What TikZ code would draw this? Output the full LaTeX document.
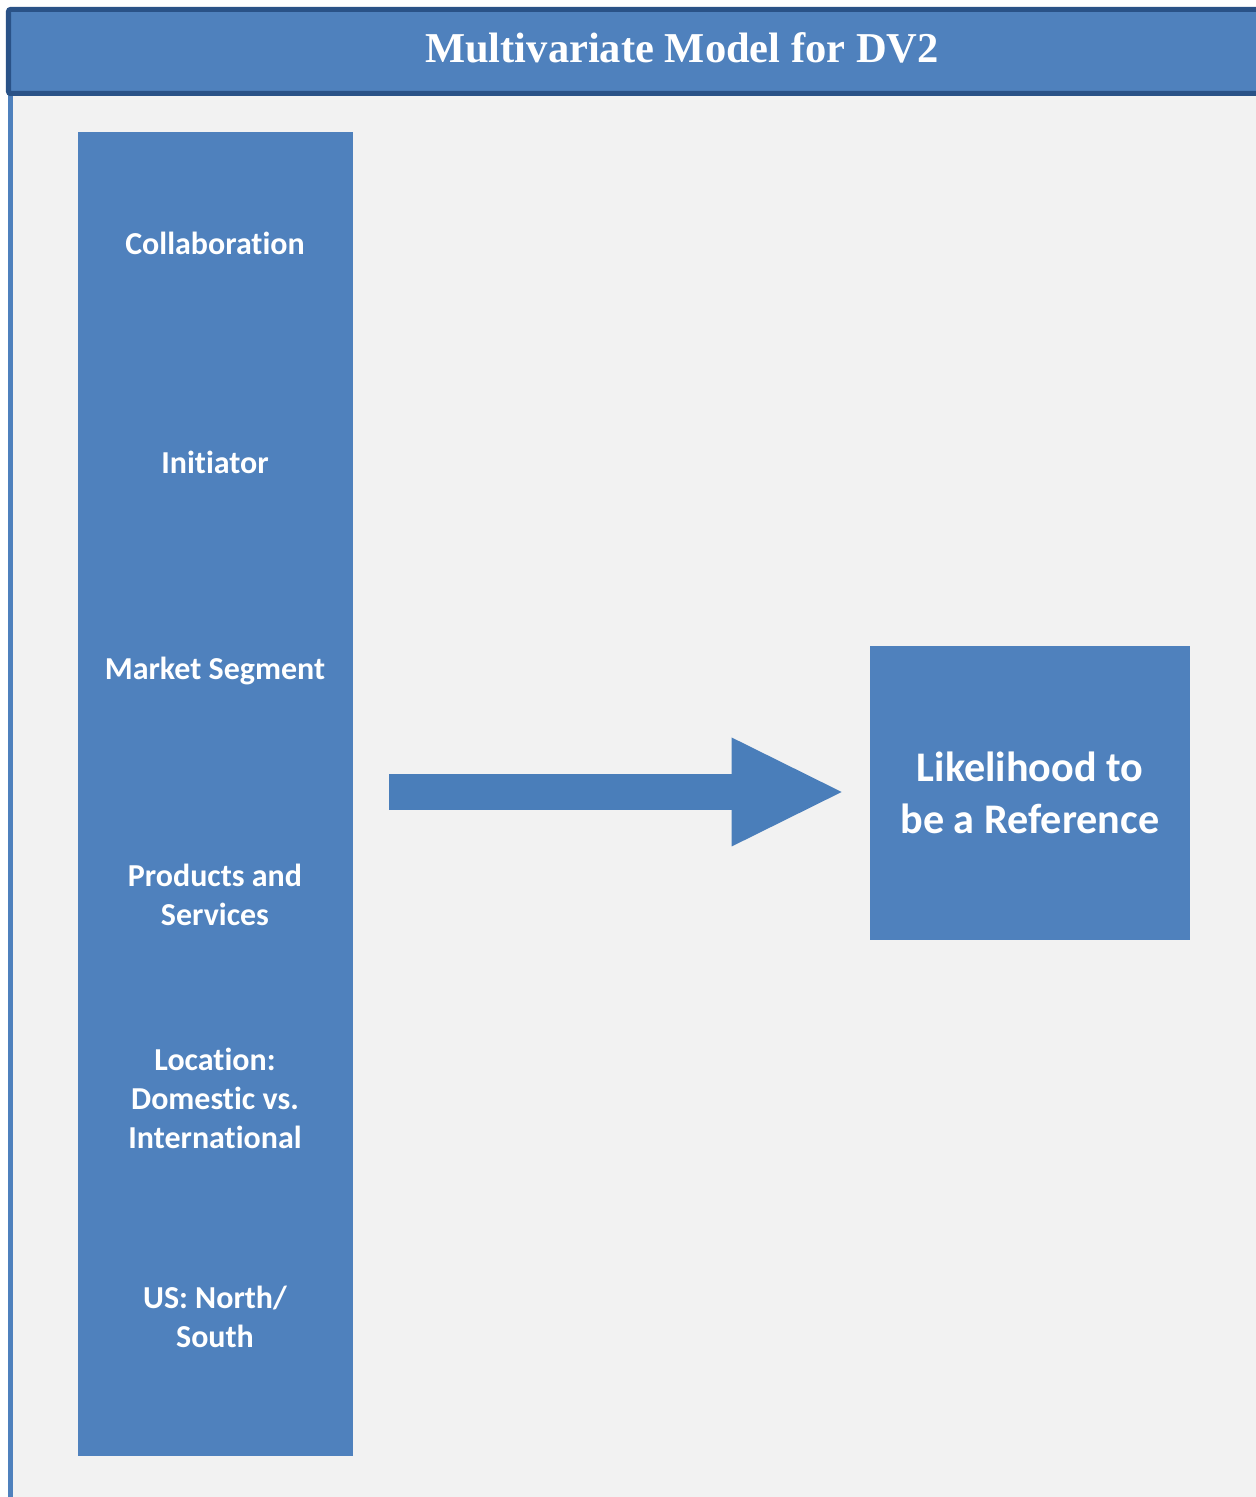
\documentclass[tikz,border=0pt]{standalone}
\usepackage{fontspec}
\setmainfont{Carlito}[Ligatures=NoCommon]
\newfontfamily\titlefont{Liberation Serif}
\usepackage{tikz}
\usetikzlibrary{arrows.meta, calc}

\definecolor{boxblue}{HTML}{4F81BD}
\definecolor{arrowblue}{HTML}{4A7EBA}
\definecolor{edgeblue}{HTML}{2A5287}
\definecolor{panelgray}{HTML}{F2F2F2}

\begin{document}
\begin{tikzpicture}[
    factor/.style={font=\bfseries\fontsize{18.2}{22.2}\selectfont, text=white, align=center},
    bigarrow/.style={draw=arrowblue, line width=0.72cm,
        -{Triangle[length=2.2cm, width=2.18cm, line width=0pt 0]}}
]
\useasboundingbox (0, 0) rectangle (25.12, 29.94);

% Panel and frame
\fill[panelgray] (0.16, 0) rectangle (25.12, 28.05);
\draw[boxblue, line width=0.11cm] (0.21, 0) -- (0.21, 28.05);

% Title bar
\draw[edgeblue, fill=boxblue, line width=0.1cm, rounded corners=0.04cm] (0.17, 28.07) rectangle (25.6, 29.75);
\node[font=\titlefont\bfseries\fontsize{24.2}{29}\selectfont, text=white] (title) at (13.64, 28.98)
    {Multivariate Model for DV2};

% Predictors column
\node[fill=boxblue, minimum width=5.5cm, minimum height=26.48cm, inner sep=0pt] (factors) at (4.31, 14.06) {};
\node[factor] (collab) at (4.30, 25.08) {Collaboration};
\node[factor] (initiator) at (4.30, 20.70) {Initiator};
\node[factor] (segment) at (4.30, 16.52) {Market Segment};
\node[factor] (products) at (4.30, 12.05) {Products and\\Services};
\node[factor] (location) at (4.30, 7.98) {Location:\\Domestic vs.\\International};
\node[factor] (region) at (4.30, 3.61) {US: North/\\South};

% Outcome
\node[fill=boxblue, minimum width=6.4cm, minimum height=5.88cm, inner sep=0pt, text=white, align=center,
    font=\bfseries\fontsize{24}{29.6}\selectfont] (outcome) at (20.6, 14.08)
    {Likelihood to\\be a Reference};

% Block arrow
\draw[bigarrow] ($(factors.east |- outcome.west)+(0.72, 0.02)$) -- ($(outcome.west)+(-0.56, 0.02)$);

\end{tikzpicture}
\end{document}
